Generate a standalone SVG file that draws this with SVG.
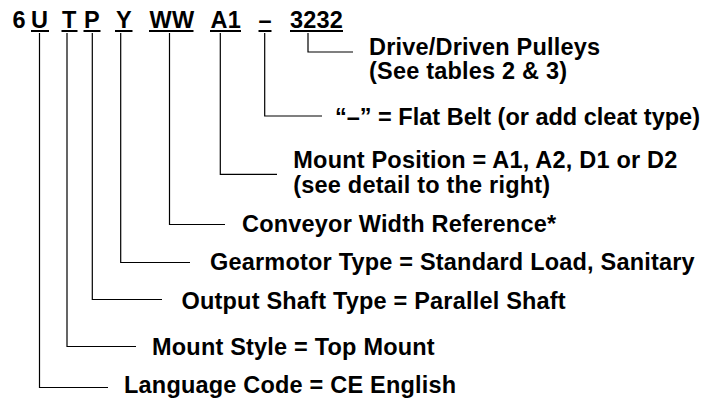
<svg xmlns="http://www.w3.org/2000/svg" width="704" height="401" viewBox="0 0 704 401">
<style>
text{font-family:"Liberation Sans",Arial,sans-serif;font-weight:bold;font-size:23.5px;letter-spacing:0.2px;fill:#000}
.c{fill:none;stroke:#000;stroke-width:1.2}
.u{stroke:#000;stroke-width:2}
</style>
<rect width="704" height="401" fill="#fff"/>
<g id="code">
<text x="12.5" y="28">6</text>
<text x="31" y="28">U</text>
<text x="62" y="28">T</text>
<text x="84" y="28">P</text>
<text x="116" y="28">Y</text>
<text x="149.5" y="28">WW</text>
<text x="210.5" y="28">A1</text>
<text x="258.5" y="28">–</text>
<text x="290" y="28">3232</text>
<line class="u" x1="31" y1="31" x2="49" y2="31"/>
<line class="u" x1="61.5" y1="31" x2="77.5" y2="31"/>
<line class="u" x1="83.5" y1="31" x2="100.5" y2="31"/>
<line class="u" x1="115" y1="31" x2="132.5" y2="31"/>
<line class="u" x1="149" y1="31" x2="193.5" y2="31"/>
<line class="u" x1="210" y1="31" x2="241" y2="31"/>
<line class="u" x1="258.5" y1="31" x2="271.5" y2="31"/>
<line class="u" x1="290" y1="31" x2="343" y2="31"/>
</g>
<g id="connectors">
<path class="c" d="M308,33V52H353"/>
<path class="c" d="M264.7,33V116H322"/>
<path class="c" d="M220.3,33V174.3H277"/>
<path class="c" d="M169.5,33V224.5H225"/>
<path class="c" d="M120.7,33V262.5H190"/>
<path class="c" d="M92.3,33V299.5H162"/>
<path class="c" d="M67,33V346.5H136"/>
<path class="c" d="M39.5,33V387.5H108"/>
</g>
<g id="pulleys"><text x="369" y="54.5">Drive/Driven Pulleys</text><text x="369" y="79">(See tables 2 &amp; 3)</text></g>
<g id="belt"><text x="335" y="124.5" style="letter-spacing:0">“–” = Flat Belt (or add cleat type)</text></g>
<g id="mount-position"><text x="293.3" y="168">Mount Position = A1, A2, D1 or D2</text><text x="293.3" y="192.5">(see detail to the right)</text></g>
<g id="width"><text x="242" y="232">Conveyor Width Reference*</text></g>
<g id="gearmotor"><text x="210" y="270">Gearmotor Type = Standard Load, Sanitary</text></g>
<g id="shaft"><text x="181.5" y="308.5">Output Shaft Type = Parallel Shaft</text></g>
<g id="mount-style"><text x="152" y="354.5">Mount Style = Top Mount</text></g>
<g id="language"><text x="124" y="392.5">Language Code = CE English</text></g>
</svg>
